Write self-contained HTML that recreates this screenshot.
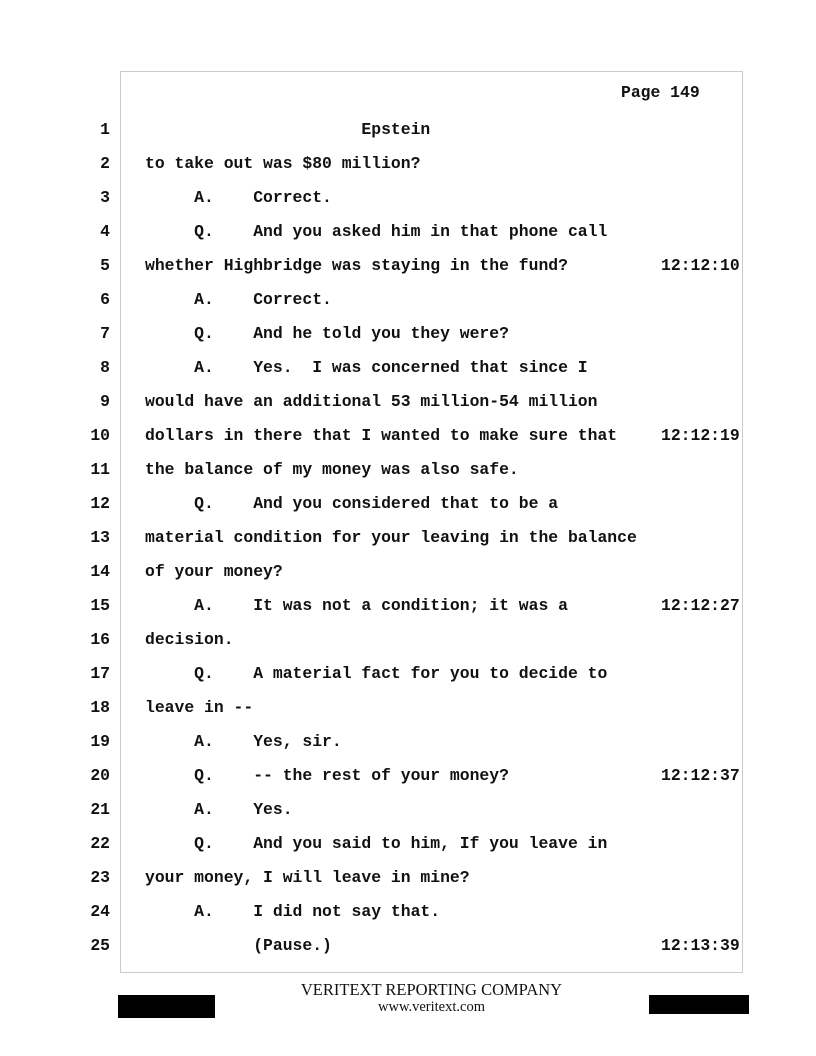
<!DOCTYPE html>
<html><head><meta charset="utf-8"><style>
body{margin:0;width:816px;height:1056px;background:#fff;position:relative;overflow:hidden}
.box{position:absolute;left:120px;top:71px;width:623px;height:902px;border:1px solid #ccc;box-sizing:border-box}
.t{position:absolute;font-family:"Liberation Mono",monospace;font-weight:bold;font-size:16.4px;line-height:20px;white-space:pre;color:#111}
.n{position:absolute;left:60px;width:50px;text-align:right;font-family:"Liberation Mono",monospace;font-weight:bold;font-size:16.4px;line-height:20px;color:#111}
.ts{position:absolute;left:661px;font-family:"Liberation Mono",monospace;font-weight:bold;font-size:16.4px;line-height:20px;color:#111}
.f{position:absolute;left:0;width:863px;text-align:center;font-family:"Liberation Serif",serif;color:#111}
.blk{position:absolute;background:#000}
</style></head><body>
<div class="box"></div>
<div class="t" style="left:621px;top:83px">Page 149</div>
<div class="n" style="top:120px">1</div><div class="t" style="left:145px;top:120px">                      Epstein</div>
<div class="n" style="top:154px">2</div><div class="t" style="left:145px;top:154px">to take out was $80 million?</div>
<div class="n" style="top:188px">3</div><div class="t" style="left:145px;top:188px">     A.    Correct.</div>
<div class="n" style="top:222px">4</div><div class="t" style="left:145px;top:222px">     Q.    And you asked him in that phone call</div>
<div class="n" style="top:256px">5</div><div class="t" style="left:145px;top:256px">whether Highbridge was staying in the fund?</div><div class="ts" style="top:256px">12:12:10</div>
<div class="n" style="top:290px">6</div><div class="t" style="left:145px;top:290px">     A.    Correct.</div>
<div class="n" style="top:324px">7</div><div class="t" style="left:145px;top:324px">     Q.    And he told you they were?</div>
<div class="n" style="top:358px">8</div><div class="t" style="left:145px;top:358px">     A.    Yes.  I was concerned that since I</div>
<div class="n" style="top:392px">9</div><div class="t" style="left:145px;top:392px">would have an additional 53 million-54 million</div>
<div class="n" style="top:426px">10</div><div class="t" style="left:145px;top:426px">dollars in there that I wanted to make sure that</div><div class="ts" style="top:426px">12:12:19</div>
<div class="n" style="top:460px">11</div><div class="t" style="left:145px;top:460px">the balance of my money was also safe.</div>
<div class="n" style="top:494px">12</div><div class="t" style="left:145px;top:494px">     Q.    And you considered that to be a</div>
<div class="n" style="top:528px">13</div><div class="t" style="left:145px;top:528px">material condition for your leaving in the balance</div>
<div class="n" style="top:562px">14</div><div class="t" style="left:145px;top:562px">of your money?</div>
<div class="n" style="top:596px">15</div><div class="t" style="left:145px;top:596px">     A.    It was not a condition; it was a</div><div class="ts" style="top:596px">12:12:27</div>
<div class="n" style="top:630px">16</div><div class="t" style="left:145px;top:630px">decision.</div>
<div class="n" style="top:664px">17</div><div class="t" style="left:145px;top:664px">     Q.    A material fact for you to decide to</div>
<div class="n" style="top:698px">18</div><div class="t" style="left:145px;top:698px">leave in --</div>
<div class="n" style="top:732px">19</div><div class="t" style="left:145px;top:732px">     A.    Yes, sir.</div>
<div class="n" style="top:766px">20</div><div class="t" style="left:145px;top:766px">     Q.    -- the rest of your money?</div><div class="ts" style="top:766px">12:12:37</div>
<div class="n" style="top:800px">21</div><div class="t" style="left:145px;top:800px">     A.    Yes.</div>
<div class="n" style="top:834px">22</div><div class="t" style="left:145px;top:834px">     Q.    And you said to him, If you leave in</div>
<div class="n" style="top:868px">23</div><div class="t" style="left:145px;top:868px">your money, I will leave in mine?</div>
<div class="n" style="top:902px">24</div><div class="t" style="left:145px;top:902px">     A.    I did not say that.</div>
<div class="n" style="top:936px">25</div><div class="t" style="left:145px;top:936px">           (Pause.)</div><div class="ts" style="top:936px">12:13:39</div>
<div class="f" style="top:980px;font-size:16.5px">VERITEXT REPORTING COMPANY</div>
<div class="f" style="top:999px;font-size:14.5px">www.veritext.com</div>
<div class="blk" style="left:118px;top:995px;width:97px;height:23px"></div>
<div class="blk" style="left:649px;top:995px;width:100px;height:19px"></div>
</body></html>
